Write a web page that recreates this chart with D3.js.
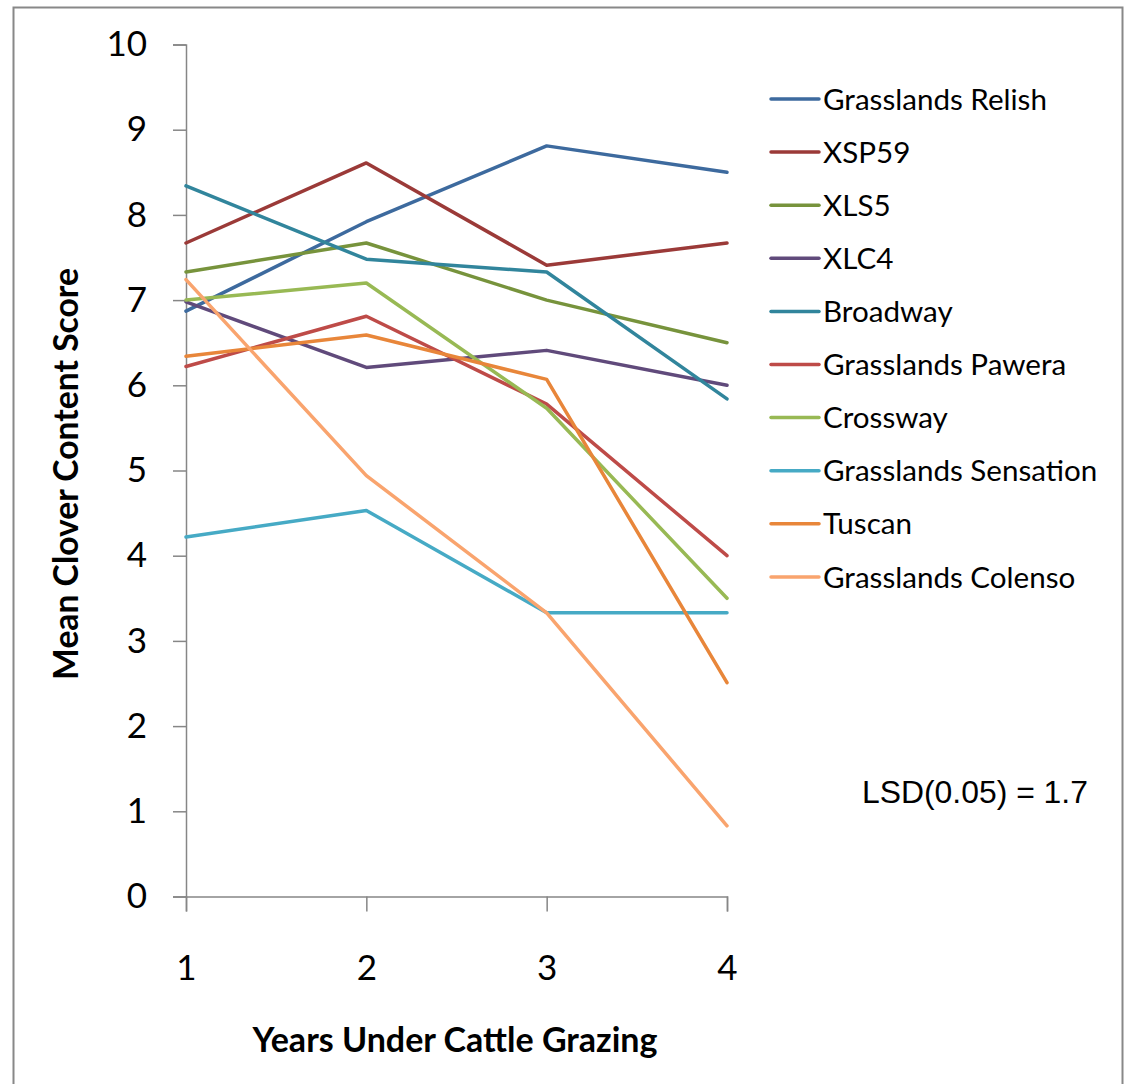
<!DOCTYPE html>
<html>
<head>
<meta charset="utf-8">
<script src="https://cdn.jsdelivr.net/npm/d3@7"></script>
<style>
  html, body { margin: 0; padding: 0; background: #fff; }
  svg { display: block; }
</style>
</head>
<body>
<svg id="chart" width="1124" height="1084"></svg>
<script>
// ---- data ----
const years = [1, 2, 3, 4];
const seriesNames = ["Grasslands Relish", "XSP59", "XLS5", "XLC4", "Broadway",
  "Grasslands Pawera", "Crossway", "Grasslands Sensation", "Tuscan", "Grasslands Colenso"];
const relish    = [6.87, 7.92, 8.81, 8.50];
const xsp59     = [7.67, 8.61, 7.41, 7.67];
const xls5      = [7.33, 7.67, 7.00, 6.50];
const xlc4      = [6.98, 6.21, 6.41, 6.00];
const broadway  = [8.34, 7.48, 7.33, 5.84];
const pawera    = [6.22, 6.81, 5.78, 4.00];
const crossway  = [7.00, 7.20, 5.73, 3.50];
const sensation = [4.22, 4.53, 3.33, 3.33];
const tuscan    = [6.34, 6.59, 6.07, 2.51];
const colenso   = [7.24, 4.94, 3.33, 0.83];
const seriesValues = [relish, xsp59, xls5, xlc4, broadway, pawera, crossway, sensation, tuscan, colenso];
const seriesColors = ["#3D6A9E", "#9B3A38", "#77933C", "#604A7B", "#31859C",
  "#BE4B48", "#98B954", "#46AAC5", "#E8863A", "#F9A46E"];
const yTickValues = [0, 1, 2, 3, 4, 5, 6, 7, 8, 9, 10];
const xTitle = "Years Under Cattle Grazing";
const yTitle = "Mean Clover Content Score";
const lsdNote = "LSD(0.05) = 1.7";

// ---- layout ----
const svg = d3.select("#chart");
const W = 1124, H = 1084;
const x = d3.scaleLinear().domain([1, 4]).range([186, 727]);
const y = d3.scaleLinear().domain([0, 10]).range([896.5, 44.5]);
const calibri = "Lato, 'Open Sans', sans-serif";
const axisColor = "#868686";

function fit(sel, target) {
  const node = sel.node();
  const fs = parseFloat(sel.attr("font-size"));
  const w = node.getComputedTextLength();
  if (w > 0) sel.attr("font-size", (fs * target / w).toFixed(2));
  return sel;
}

// frame
svg.append("rect").attr("x", 13.5).attr("y", 7.5).attr("width", 1109).attr("height", 1100)
  .attr("fill", "none").attr("stroke", "#888").attr("stroke-width", 2);

// y axis
const yAxis = svg.append("g").attr("transform", "translate(186,0)")
  .call(d3.axisLeft(y).tickValues(yTickValues).tickSize(13).tickPadding(26).tickFormat(d3.format("d")));
yAxis.select(".domain").attr("stroke", axisColor).attr("stroke-width", 1.5);
yAxis.selectAll(".tick line").attr("stroke", axisColor).attr("stroke-width", 1.5);
yAxis.selectAll("text").attr("font-family", calibri).attr("font-size", 35).attr("fill", "#000");

// x axis
const xAxis = svg.append("g").attr("transform", "translate(0,896.5)")
  .call(d3.axisBottom(x).tickValues(years).tickSize(15).tickPadding(44).tickFormat(d3.format("d")));
xAxis.select(".domain").attr("stroke", axisColor).attr("stroke-width", 1.5);
xAxis.selectAll(".tick line").attr("stroke", axisColor).attr("stroke-width", 1.5);
xAxis.selectAll("text").attr("font-family", calibri).attr("font-size", 35).attr("fill", "#000");

// lines
const line = d3.line().x((d, i) => x(years[i])).y(d => y(d));
svg.append("g").selectAll("path").data(seriesValues).join("path")
  .attr("d", line).attr("fill", "none")
  .attr("stroke", (d, i) => seriesColors[i]).attr("stroke-width", 3.5)
  .attr("stroke-linejoin", "round").attr("stroke-linecap", "round");

// legend
const lg = svg.append("g");
seriesNames.forEach((name, i) => {
  const yy = 99 + i * 53.1;
  lg.append("line").attr("x1", 771).attr("x2", 819).attr("y1", yy).attr("y2", yy)
    .attr("stroke", seriesColors[i]).attr("stroke-width", 3.5).attr("stroke-linecap", "round");
  lg.append("text").attr("x", 823).attr("y", yy).attr("dy", "0.36em")
    .attr("font-family", calibri).attr("font-size", 25).attr("fill", "#000").text(name);
});
fit(lg.selectAll("text").filter((d, i) => i === 0), 224);
const legendFs = lg.select("text").attr("font-size");
lg.selectAll("text").attr("font-size", legendFs);

// axis titles
const xt = svg.append("text").attr("x", 455).attr("y", 1040).attr("dy", "0.36em")
  .attr("text-anchor", "middle").attr("font-family", calibri).attr("font-weight", "bold")
  .attr("font-size", 27).attr("fill", "#000").text(xTitle);
fit(xt, 405);
const yt = svg.append("text").attr("transform", "translate(66,474) rotate(-90)").attr("dy", "0.36em")
  .attr("text-anchor", "middle").attr("font-family", calibri).attr("font-weight", "bold")
  .attr("font-size", 27).attr("fill", "#000").text(yTitle);
fit(yt, 412);

// LSD note
const ln = svg.append("text").attr("x", 862).attr("y", 792).attr("dy", "0.36em")
  .attr("font-family", "'Liberation Sans', Arial, sans-serif").attr("font-size", 24)
  .attr("fill", "#000").text(lsdNote);
fit(ln, 226);
</script>
</body>
</html>
